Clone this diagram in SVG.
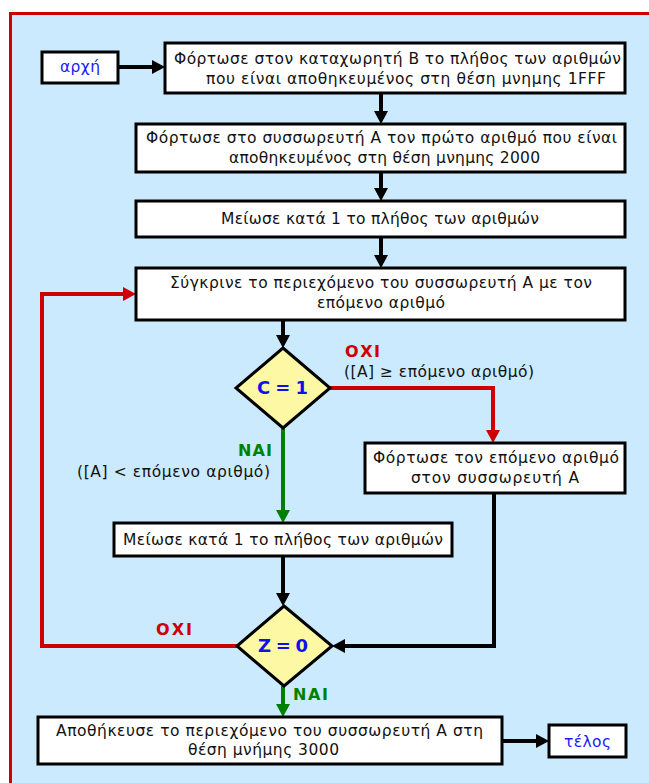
<svg xmlns="http://www.w3.org/2000/svg" width="649" height="783" viewBox="0 0 649 783">
<style>
.box{fill:#ffffff;stroke:#000000;stroke-width:3}
.dia{fill:#fdf8a3;stroke:#000000;stroke-width:3;stroke-linejoin:miter}
.t{font-family:"DejaVu Sans","Liberation Sans",sans-serif;font-size:15.5px;fill:#111111}
.tb{font-family:"DejaVu Sans","Liberation Sans",sans-serif;font-size:15.5px;fill:#1a1aff}
.cond{font-family:"DejaVu Sans","Liberation Sans",sans-serif;font-size:18px;font-weight:bold;fill:#1010ee}
.no{font-family:"DejaVu Sans","Liberation Sans",sans-serif;font-size:16px;font-weight:bold;fill:#cc0000}
.yes{font-family:"DejaVu Sans","Liberation Sans",sans-serif;font-size:16px;font-weight:bold;fill:#008000}
.k{fill:none;stroke:#000000;stroke-width:4;stroke-linejoin:miter}
.r{fill:none;stroke:#cc0000;stroke-width:4;stroke-linejoin:miter}
.g{fill:none;stroke:#008000;stroke-width:4}
</style>
<defs>
<marker id="ak" markerUnits="userSpaceOnUse" markerWidth="14" markerHeight="14" refX="9" refY="7" orient="auto"><path d="M0,0 L13,7 L0,14 z" fill="#000000"/></marker>
<marker id="ar" markerUnits="userSpaceOnUse" markerWidth="14" markerHeight="14" refX="9" refY="7" orient="auto"><path d="M0,0 L13,7 L0,14 z" fill="#cc0000"/></marker>
<marker id="ag" markerUnits="userSpaceOnUse" markerWidth="14" markerHeight="14" refX="9" refY="7" orient="auto"><path d="M0,0 L13,7 L0,14 z" fill="#008000"/></marker>
</defs>
<rect x="0" y="0" width="649" height="783" fill="#ffffff"/>
<rect id="frame" x="10.5" y="13.5" width="700" height="800" fill="#cbeafd" stroke="#cc0000" stroke-width="3"/>

<g id="connectors">
<path class="k" d="M118,67 H161" marker-end="url(#ak)"/>
<path class="k" d="M381,93 V120" marker-end="url(#ak)"/>
<path class="k" d="M381,172 V197" marker-end="url(#ak)"/>
<path class="k" d="M381,237 V264" marker-end="url(#ak)"/>
<path class="k" d="M283,320 V344" marker-end="url(#ak)"/>
<path class="r" d="M330,388 H493 V439" marker-end="url(#ar)"/>
<path class="g" d="M283,428 V519" marker-end="url(#ag)"/>
<path class="k" d="M283,556 V602" marker-end="url(#ak)"/>
<path class="k" d="M494,493 V646 H336" marker-end="url(#ak)"/>
<path class="r" d="M237,646 H42 V294 H132" marker-end="url(#ar)"/>
<path class="g" d="M283,686 V713" marker-end="url(#ag)"/>
<path class="k" d="M502,741 H545" marker-end="url(#ak)"/>
<text class="no" x="345" y="357" textLength="35">ΟΧΙ</text>
<text class="t" x="344" y="377" textLength="190">([A] ≥ επόμενο αριθμό)</text>
<text class="yes" x="238" y="456" textLength="34">ΝΑΙ</text>
<text class="t" x="77" y="477" textLength="193">([A] &lt; επόμενο αριθμό)</text>
<text class="no" x="156" y="635" textLength="36">ΟΧΙ</text>
<text class="yes" x="293" y="700" textLength="35">ΝΑΙ</text>
</g>

<g id="start">
<rect class="box" x="42" y="52" width="76" height="31"/>
<text class="tb" x="60" y="72" textLength="40">αρχή</text>
</g>

<g id="load-B">
<rect class="box" x="165" y="43" width="460" height="50"/>
<text class="t" x="174" y="64" textLength="447">Φόρτωσε στον καταχωρητή Β το πλήθος των αριθμών</text>
<text class="t" x="206" y="84" textLength="400">που είναι αποθηκευμένος στη θέση μνημης 1FFF</text>
</g>

<g id="load-A">
<rect class="box" x="136" y="124" width="489" height="48"/>
<text class="t" x="146" y="143" textLength="471">Φόρτωσε στο συσσωρευτή Α τον πρώτο αριθμό που είναι</text>
<text class="t" x="229" y="163" textLength="311">αποθηκευμένος στη θέση μνημης 2000</text>
</g>

<g id="dec-1">
<rect class="box" x="136" y="201" width="489" height="36"/>
<text class="t" x="221" y="224" textLength="318">Μείωσε κατά 1 το πλήθος των αριθμών</text>
</g>

<g id="compare">
<rect class="box" x="136" y="268" width="489" height="52"/>
<text class="t" x="170" y="288" textLength="422">Σύγκρινε το περιεχόμενο του συσσωρευτή Α με τον</text>
<text class="t" x="317" y="308" textLength="128">επόμενο αριθμό</text>
</g>

<g id="cond-C">
<polygon class="dia" points="283,348 330,388 283,428 236,388"/>
<text class="cond" x="257" y="394" textLength="51">C = 1</text>
</g>

<g id="load-next">
<rect class="box" x="365" y="443" width="260" height="50"/>
<text class="t" x="373" y="463" textLength="246">Φόρτωσε τον επόμενο αριθμό</text>
<text class="t" x="411" y="483" textLength="168">στον συσσωρευτή Α</text>
</g>

<g id="dec-2">
<rect class="box" x="114" y="523" width="338" height="33"/>
<text class="t" x="123" y="545" textLength="320">Μείωσε κατά 1 το πλήθος των αριθμών</text>
</g>

<g id="cond-Z">
<polygon class="dia" points="284,606 332,646 284,686 237,646"/>
<text class="cond" x="258" y="652" textLength="50">Z = 0</text>
</g>

<g id="store">
<rect class="box" x="38" y="717" width="464" height="47"/>
<text class="t" x="56" y="736" textLength="427">Αποθήκευσε το περιεχόμενο του συσσωρευτή Α στη</text>
<text class="t" x="188" y="755" textLength="151">θέση μνήμης 3000</text>
</g>

<g id="end">
<rect class="box" x="549" y="725" width="77" height="32"/>
<text class="tb" x="564" y="747" textLength="47">τέλος</text>
</g>
</svg>
